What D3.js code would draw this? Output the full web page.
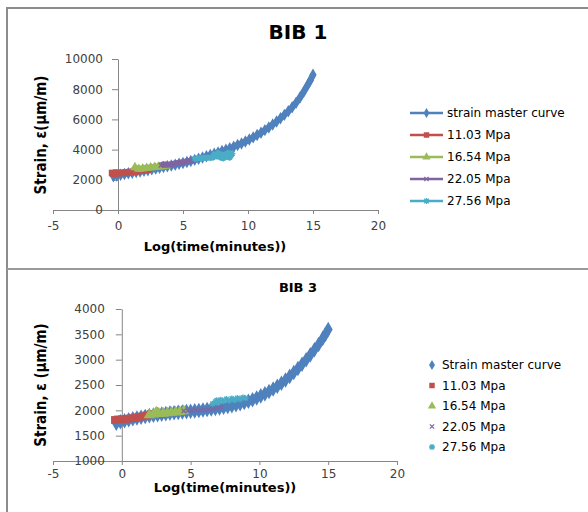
<!DOCTYPE html>
<html>
<head>
<meta charset="utf-8">
<script src="https://cdn.jsdelivr.net/npm/d3@7"></script>
<style>
  body { margin: 0; background: #fff; }
  svg { display: block; }
  .tick text { font-family: "DejaVu Sans", Verdana, sans-serif; font-size: 12px; fill: #404040; }
  .axis path, .axis line { stroke: #868686; }
</style>
</head>
<body>
<svg id="chart" width="588" height="512"></svg>
<script>
// ---- data ----
var seriesNames = ["strain master curve", "11.03 Mpa", "16.54 Mpa", "22.05 Mpa", "27.56 Mpa"];
var seriesNames3 = ["Strain master curve", "11.03 Mpa", "16.54 Mpa", "22.05 Mpa", "27.56 Mpa"];
var colors = ["#4F81BD", "#C0504D", "#9BBB59", "#8064A2", "#4BACC6"];
var xTicks = [-5, 0, 5, 10, 15, 20];
var yTicks1 = [0, 2000, 4000, 6000, 8000, 10000];
var yTicks3 = [1000, 1500, 2000, 2500, 3000, 3500, 4000];

// BIB 1
var bib1Master = [[-0.35,2230],[-0.1,2290],[0.2,2340],[0.5,2380],[0.8,2430],[1.1,2470],[1.4,2510],[1.7,2550],
  [2.0,2600],[2.3,2640],[2.6,2690],[2.9,2740],[3.2,2790],[3.5,2840],[3.8,2890],[4.1,2950],[4.4,3000],[4.7,3060],
  [5.0,3120],[5.3,3180],[5.6,3250],[5.9,3320],[6.2,3400],[6.5,3480],[6.8,3560],[7.1,3640],[7.4,3720],[7.7,3810],
  [8.0,3900],[8.3,3990],[8.6,4090],[8.9,4190],[9.2,4300],[9.5,4410],[9.8,4540],[10.1,4670],[10.4,4810],[10.7,4960],
  [11.0,5120],[11.3,5290],[11.6,5470],[11.9,5660],[12.2,5860],[12.5,6070],[12.8,6300],[13.1,6540],[13.4,6800],
  [13.7,7100],[14.0,7450],[14.3,7850],[14.6,8300],[14.8,8600],[15.0,8950]];
var bib1S11 = [[-0.45,2450],[-0.3,2400],[-0.15,2470],[0.0,2440],[0.3,2460],[0.6,2490],[0.9,2510],[1.2,2540],
  [1.5,2570],[1.8,2610],[2.1,2650],[2.3,2680]];
var bib1S16 = [[1.3,2820],[1.6,2720],[1.9,2750],[2.2,2780],[2.5,2810],[2.8,2830],[3.1,2860],[3.4,2880],[3.7,2910]];
var bib1S22 = [[3.3,2960],[3.5,3020],[3.8,2990],[4.1,3040],[4.4,3090],[4.7,3130],[5.0,3170],[5.3,3220],[5.6,3260],[5.8,3300]];
var bib1S27 = [[5.9,3400],[6.1,3420],[7.3,3470],[7.4,3680],[7.6,3560],[7.7,3760],[7.9,3480],[8.0,3660],[8.1,3430],
  [8.3,3700],[8.4,3520],[8.5,3780],[8.6,3480],[8.7,3640],[8.8,3740]];

// BIB 3
var bib3Master = [[-0.4,1745],[-0.1,1775],[0.2,1795],[0.5,1815],[0.8,1835],[1.1,1850],[1.4,1865],[1.7,1880],
  [2.0,1895],[2.3,1905],[2.6,1915],[2.9,1925],[3.2,1935],[3.5,1945],[3.8,1952],[4.1,1960],[4.4,1967],[4.7,1975],
  [5.0,1982],[5.3,1990],[5.6,1998],[5.9,2007],[6.2,2016],[6.5,2026],[6.8,2036],[7.1,2047],[7.4,2060],[7.7,2075],
  [8.0,2092],[8.3,2110],[8.6,2130],[8.9,2155],[9.2,2180],[9.5,2210],[9.8,2245],[10.1,2285],[10.4,2325],[10.7,2370],
  [11.0,2420],[11.3,2475],[11.6,2535],[11.9,2600],[12.2,2670],[12.5,2745],[12.8,2825],[13.1,2910],[13.4,3000],
  [13.7,3095],[14.0,3195],[14.3,3300],[14.6,3420],[14.8,3500],[15.0,3595]];
var bib3S11 = [[-0.5,1810],[-0.3,1820],[0.0,1825],[0.3,1830],[0.6,1840],[0.9,1850],[1.2,1865],[1.5,1880],[1.8,1900],[2.1,1925]];
var bib3S16 = [[2.0,1910],[2.3,1925],[2.5,1960],[2.7,1935],[3.0,1940],[3.3,1945],[3.6,1955],[3.9,1960],[4.2,1970],[4.5,1985]];
var bib3S22 = [[4.5,1990],[4.8,1995],[5.1,2000],[5.4,2005],[5.7,2010],[6.0,2015],[6.3,2020],[6.6,2030],[6.9,2045],[7.2,2060]];
var bib3S27 = [[6.6,2130],[6.8,2170],[6.9,2200],[7.0,2150],[7.2,2210],[7.4,2180],[7.6,2225],[7.8,2190],[8.0,2235],
  [8.2,2200],[8.4,2245],[8.6,2215],[8.8,2255],[9.0,2240]];

var svg = d3.select("#chart");

// panel frames
svg.append("path").attr("d", "M7,512V8H588").attr("fill", "none").attr("stroke", "#8c8c8c").attr("stroke-width", 2);
svg.append("line").attr("x1", 7).attr("x2", 588).attr("y1", 269).attr("y2", 269)
  .attr("stroke", "#9a9a9a").attr("stroke-width", 2);

var symbols = [d3.symbolDiamond, d3.symbolSquare, d3.symbolTriangle, d3.symbolCross, d3.symbolAsterisk];

function marker(g, i, cx, cy, size) {
  var p = g.append("path")
    .attr("transform", "translate(" + cx + "," + cy + ")" + (i == 3 ? " rotate(45)" : ""));
  if (i == 3) {
    p.attr("d", "M-3,0H3M0,-3V3").attr("fill", "none").attr("stroke", colors[i]).attr("stroke-width", 1.3);
  } else if (i == 4) {
    p.attr("d", "M-3,0H3M0,-3V3M-2.2,-2.2L2.2,2.2M-2.2,2.2L2.2,-2.2").attr("fill", "none")
      .attr("stroke", colors[i]).attr("stroke-width", 1.3);
  } else {
    p.attr("d", d3.symbol().type(symbols[i]).size(size)()).attr("fill", colors[i]);
  }
}

function fmt(d) { return String(d); }

function drawChart(opt) {
  var x = d3.scaleLinear().domain([-5, 20]).range(opt.xr);
  var y = d3.scaleLinear().domain(opt.yd).range(opt.yr);
  var g = svg.append("g");

  g.append("g").attr("class", "axis")
    .attr("transform", "translate(0," + opt.yr[0] + ")")
    .call(d3.axisBottom(x).tickValues(xTicks).tickFormat(fmt).tickSize(4).tickPadding(opt.xpad).tickSizeOuter(0));
  g.append("g").attr("class", "axis")
    .attr("transform", "translate(" + x(0) + ",0)")
    .call(d3.axisLeft(y).tickValues(opt.yTicks).tickFormat(fmt).tickSize(6).tickPadding(opt.ypad).tickSizeOuter(0));

  var line = d3.line().x(function(d) { return x(d[0]); }).y(function(d) { return y(d[1]); });

  opt.series.forEach(function(s, i) {
    if (opt.lines) {
      g.append("path").datum(s).attr("d", line).attr("fill", "none")
        .attr("stroke", colors[i]).attr("stroke-width", 6).attr("stroke-linejoin", "round");
    }
    s.forEach(function(d) {
      marker(g, i, x(d[0]), y(d[1]), opt.msize[i]);
    });
  });

  // titles
  svg.append("text").attr("x", opt.title[1]).attr("y", opt.title[2])
    .attr("text-anchor", "middle").style("font-family", "DejaVu Sans, sans-serif")
    .style("font-weight", "bold").style("font-size", opt.title[3] + "px").attr("fill", "#000")
    .text(opt.title[0]);
  svg.append("text").attr("x", opt.xl[0]).attr("y", opt.xl[1]).attr("text-anchor", "middle")
    .style("font-family", "DejaVu Sans, sans-serif").style("font-weight", "bold").style("font-size", "13px")
    .attr("fill", "#000").text("Log(time(minutes))");
  svg.append("text").attr("transform", "translate(" + opt.yl[0] + "," + opt.yl[1] + ") rotate(-90)")
    .attr("text-anchor", "middle")
    .style("font-family", "'Liberation Sans Narrow', 'DejaVu Sans Condensed', sans-serif")
    .style("font-weight", "bold").style("font-size", "15px").attr("fill", "#000")
    .text(opt.ylabel);

  // legend
  var lg = svg.append("g");
  opt.names.forEach(function(n, i) {
    var ly = opt.leg[1] + i * opt.leg[2];
    if (opt.lines) {
      lg.append("line").attr("x1", opt.leg[0]).attr("x2", opt.leg[0] + 33).attr("y1", ly).attr("y2", ly)
        .attr("stroke", colors[i]).attr("stroke-width", 2.5);
      marker(lg, i, opt.leg[0] + 16.5, ly, 30);
    } else {
      marker(lg, i, opt.leg[0] + 5, ly, 30);
    }
    lg.append("text").attr("x", opt.leg[3]).attr("y", ly).attr("dy", "0.35em")
      .style("font-family", "DejaVu Sans, sans-serif").style("font-size", "12px").attr("fill", "#000")
      .text(n);
  });
}

drawChart({
  xr: [53, 378], yd: [0, 10000], yr: [210, 59], yTicks: yTicks1, xpad: 7, ypad: 9, lines: true,
  series: [bib1Master, bib1S11, bib1S16, bib1S22, bib1S27], msize: [45, 45, 40, 40, 40],
  title: ["BIB 1", 298, 39, 20], xl: [215, 251], yl: [46, 135], ylabel: "Strain, \u03b5(\u03bcm/m)",
  names: seriesNames, leg: [410, 113, 22, 447]
});

drawChart({
  xr: [53, 397], yd: [1000, 4000], yr: [461, 309], yTicks: yTicks3, xpad: 4, ypad: 11, lines: false,
  series: [bib3Master, bib3S11, bib3S16, bib3S22, bib3S27], msize: [70, 60, 55, 40, 40],
  title: ["BIB 3", 298, 292, 13], xl: [225, 492], yl: [46, 385], ylabel: "Strain, \u03b5 (\u03bcm/m)",
  names: seriesNames3, leg: [427, 365, 20.5, 442]
});
</script>
</body>
</html>
